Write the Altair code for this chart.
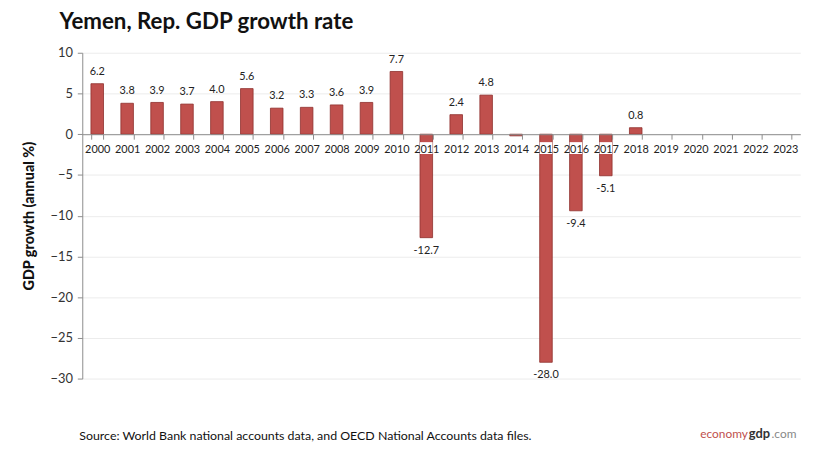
import altair as alt
import pandas as pd

years = [str(y) for y in range(2000, 2024)]
growth = [6.2, 3.8, 3.9, 3.7, 4.0, 5.6, 3.2, 3.3, 3.6, 3.9, 7.7, -12.7,
          2.4, 4.8, -0.2, -28.0, -9.4, -5.1, 0.8, None, None, None, None, None]
labels = ["6.2", "3.8", "3.9", "3.7", "4.0", "5.6", "3.2", "3.3", "3.6", "3.9",
          "7.7", "-12.7", "2.4", "4.8", "", "-28.0", "-9.4", "-5.1", "0.8",
          "", "", "", "", ""]

df = pd.DataFrame({"year": years, "value": growth, "label": labels})

W, H = 725, 329
ZERO_Y = H * 10 / 40
FONT = "Lato"

x_scale = alt.Scale(paddingInner=0.58, paddingOuter=0.29)

x_enc = alt.X(
    "year:N",
    sort=years,
    scale=x_scale,
    axis=alt.Axis(
        title=None, offset=-0.75 * H, labelAngle=0, labelFontSize=11,
        labelColor="#222", labelFont=FONT, labelPadding=4, tickBand="extent",
        domainColor="#8c8c8c", tickColor="#8c8c8c", tickSize=5, grid=False,
        zindex=1,
    ),
)
y_scale = alt.Scale(domain=[-30, 10], nice=False)

base = alt.Chart(df)

bars = base.mark_bar(color="#c0504d", stroke="#8e2f2c", strokeWidth=0.8).encode(
    x=x_enc,
    y=alt.Y(
        "value:Q", scale=y_scale,
        axis=alt.Axis(
            title="GDP growth (annual %)", values=[-30, -25, -20, -15, -10, -5, 0, 5, 10],
            titleFont=FONT, titleFontSize=14.5, titleFontWeight=900, titleColor="#111",
            titlePadding=14, labelFont=FONT, labelFontSize=13, labelColor="#333",
            labelPadding=5, tickSize=5, tickColor="#8c8c8c", domainColor="#8c8c8c",
            gridColor="#ececec", domain=True,
        ),
    ),
)

# white patch behind the year labels where a bar runs below zero
label_bg = base.transform_filter("datum.value < -1").mark_rect(color="white").encode(
    x=alt.X("year:N", sort=years, scale=x_scale),
    y=alt.value(ZERO_Y + 8),
    y2=alt.value(ZERO_Y + 20),
)

pos_text = base.transform_filter("datum.value > 0").mark_text(
    baseline="bottom", dy=-7, fontSize=11, font=FONT, color="#222"
).encode(x=alt.X("year:N", sort=years), y=alt.Y("value:Q", scale=y_scale), text="label:N")

neg_text = base.transform_filter("datum.value < 0").mark_text(
    baseline="top", dy=7, fontSize=11, font=FONT, color="#222"
).encode(x=alt.X("year:N", sort=years), y=alt.Y("value:Q", scale=y_scale), text="label:N")

source = alt.Chart(pd.DataFrame({"t": ["Source:  World Bank national accounts data, and OECD National Accounts data files."]})).mark_text(
    align="left", baseline="middle", fontSize=12.5, font=FONT, color="#111"
).encode(x=alt.value(-3), y=alt.value(H + 58), text="t:N")

brand1 = alt.Chart(pd.DataFrame({"t": ["economy"]})).mark_text(
    align="left", baseline="middle", fontSize=12, font=FONT, color="#c0504d"
).encode(x=alt.value(624), y=alt.value(H + 56), text="t:N")
brand2 = alt.Chart(pd.DataFrame({"t": ["gdp"]})).mark_text(
    align="left", baseline="middle", fontSize=13, font=FONT, fontWeight="bold", color="#333"
).encode(x=alt.value(673), y=alt.value(H + 56), text="t:N")
brand3 = alt.Chart(pd.DataFrame({"t": [".com"]})).mark_text(
    align="left", baseline="middle", fontSize=12, font=FONT, color="#888"
).encode(x=alt.value(696), y=alt.value(H + 56), text="t:N")

chart = (
    alt.layer(bars, label_bg, pos_text, neg_text, source, brand1, brand2, brand3)
    .properties(
        width=W, height=H,
        autosize=alt.AutoSizeParams(type="none"),
        padding={"left": 75, "top": 43, "right": 27, "bottom": 79},
        view=alt.ViewBackground(stroke="transparent", strokeWidth=0),
        title=alt.TitleParams(
            "Yemen, Rep. GDP growth rate", anchor="start", frame="group", dx=-23,
            offset=13, font=FONT, fontSize=22.5, fontWeight="bold", color="#111",
        ),
    )
    .configure_view(stroke="transparent", strokeWidth=0)
    .configure(background="white")
)

chart.save("out.html", embed_options={"renderer": "svg", "actions": False})
